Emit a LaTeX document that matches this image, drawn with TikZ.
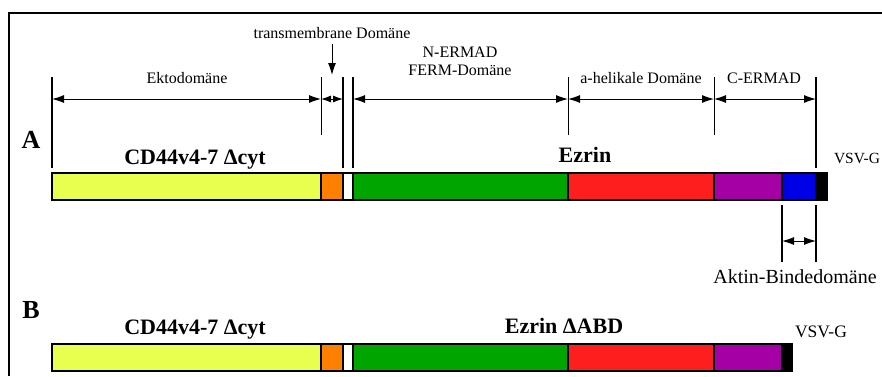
\documentclass[tikz,border=0pt]{standalone}
\usepackage{fontspec}
\setmainfont{Liberation Serif}
\usetikzlibrary{arrows.meta}

\definecolor{ektocol}{RGB}{232,255,80}
\definecolor{tmcol}{RGB}{255,128,0}
\definecolor{fermcol}{RGB}{0,165,0}
\definecolor{helixcol}{RGB}{255,30,30}
\definecolor{cermadcol}{RGB}{165,0,165}
\definecolor{abdcol}{RGB}{0,0,230}

\begin{document}
\begin{tikzpicture}[x=1pt,y=-1pt]
        \tikzstyle{every node}=[inner sep=0pt, font=\fontsize{16}{18}\selectfont]
        \tikzstyle{bigtitle}=[anchor=base, font=\bfseries\fontsize{22}{24}\selectfont]
        \tikzstyle{dlabel}=[anchor=base]
        \tikzstyle{dimarrow}=[line width=1pt, {Latex[length=12pt,width=8pt]}-{Latex[length=12pt,width=8pt]}]
        \tikzstyle{thin tick}=[line width=0.9pt]
        \tikzstyle{thick tick}=[line width=2pt]
        \tikzstyle{segbox}=[draw, line width=1.6pt]
        \useasboundingbox (0,0) rectangle (882,376);
        % frame
        \draw[line width=2pt] (882,13) -- (9,13) -- (9,376);
        % construct A
        \foreach \a/\b/\c in {52/321/ektocol, 321/343/tmcol, 343/353/white, 353/568/fermcol, 568/714/helixcol, 714/782/cermadcol, 782/816/abdcol, 816/827/black}
            \draw[segbox, fill=\c] (\a,173) rectangle (\b,200);
        % construct B
        \foreach \a/\b/\c in {52/321/ektocol, 321/343/tmcol, 343/353/white, 353/568/fermcol, 568/714/helixcol, 714/782/cermadcol, 782/792/black}
            \draw[segbox, fill=\c] (\a,344) rectangle (\b,371);
        % domain borders
        \foreach \x in {52,343,353,816} \draw[thick tick] (\x,77) -- (\x,168);
        \foreach \x in {321,568,714} \draw[thin tick] (\x,77) -- (\x,135);
        \foreach \x in {782,816} \draw[thick tick] (\x,205) -- (\x,262);
        \foreach \n/\x in {a0/52, a1/321, a2/343, a3/353, a4/568, a5/714, a6/816} \coordinate (\n) at (\x,99);
        \coordinate (b0) at (782,241);
        \coordinate (b1) at (816,241);
        \draw[dimarrow] (a0) -- (a1);
        \draw[dimarrow, {Latex[length=10pt,width=7pt]}-{Latex[length=10pt,width=7pt]}] (a1) -- (a2);
        \draw[dimarrow] (a3) -- (a4);
        \draw[dimarrow] (a4) -- (a5);
        \draw[dimarrow] (a5) -- (a6);
        \draw[dimarrow] (b0) -- (b1);
        % labels
        \node[dlabel] (tmlabel) at (332,38) {transmembrane Domäne};
        \coordinate (tmtip) at (332,75);
        \draw[line width=1pt, -{Latex[length=12pt,width=8pt]}, shorten <=6pt] (tmlabel.south) -- (tmtip);
        \node[dlabel] (ekto) at (187,83) {Ektodomäne};
        \node[dlabel, align=center] (ferm) at (460,75) {N-ERMAD\\FERM-Domäne};
        \node[dlabel] (helix) at (641,83) {a-helikale Domäne};
        \node[dlabel] (cermad) at (764,83) {C-ERMAD};
        \node[dlabel, font=\fontsize{20}{22}\selectfont] (abd) at (795,283) {Aktin-Bindedomäne};
        \node[dlabel, font=\fontsize{15.5}{18}\selectfont] (vsvA) at (857,163) {VSV-G};
        \node[dlabel, font=\fontsize{17.5}{20}\selectfont] (vsvB) at (821,337) {VSV-G};
        \node[bigtitle, font=\bfseries\fontsize{26}{28}\selectfont] (A) at (31,148) {A};
        \node[bigtitle, font=\bfseries\fontsize{26}{28}\selectfont] (B) at (31,318) {B};
        \node[bigtitle] (cdA) at (195,164) {CD44v4-7 Δcyt};
        \node[bigtitle] (cdB) at (195,334) {CD44v4-7 Δcyt};
        \node[bigtitle] (ezA) at (585,162) {Ezrin};
        \node[bigtitle] (ezB) at (564,333) {Ezrin ΔABD};
\end{tikzpicture}
\end{document}
